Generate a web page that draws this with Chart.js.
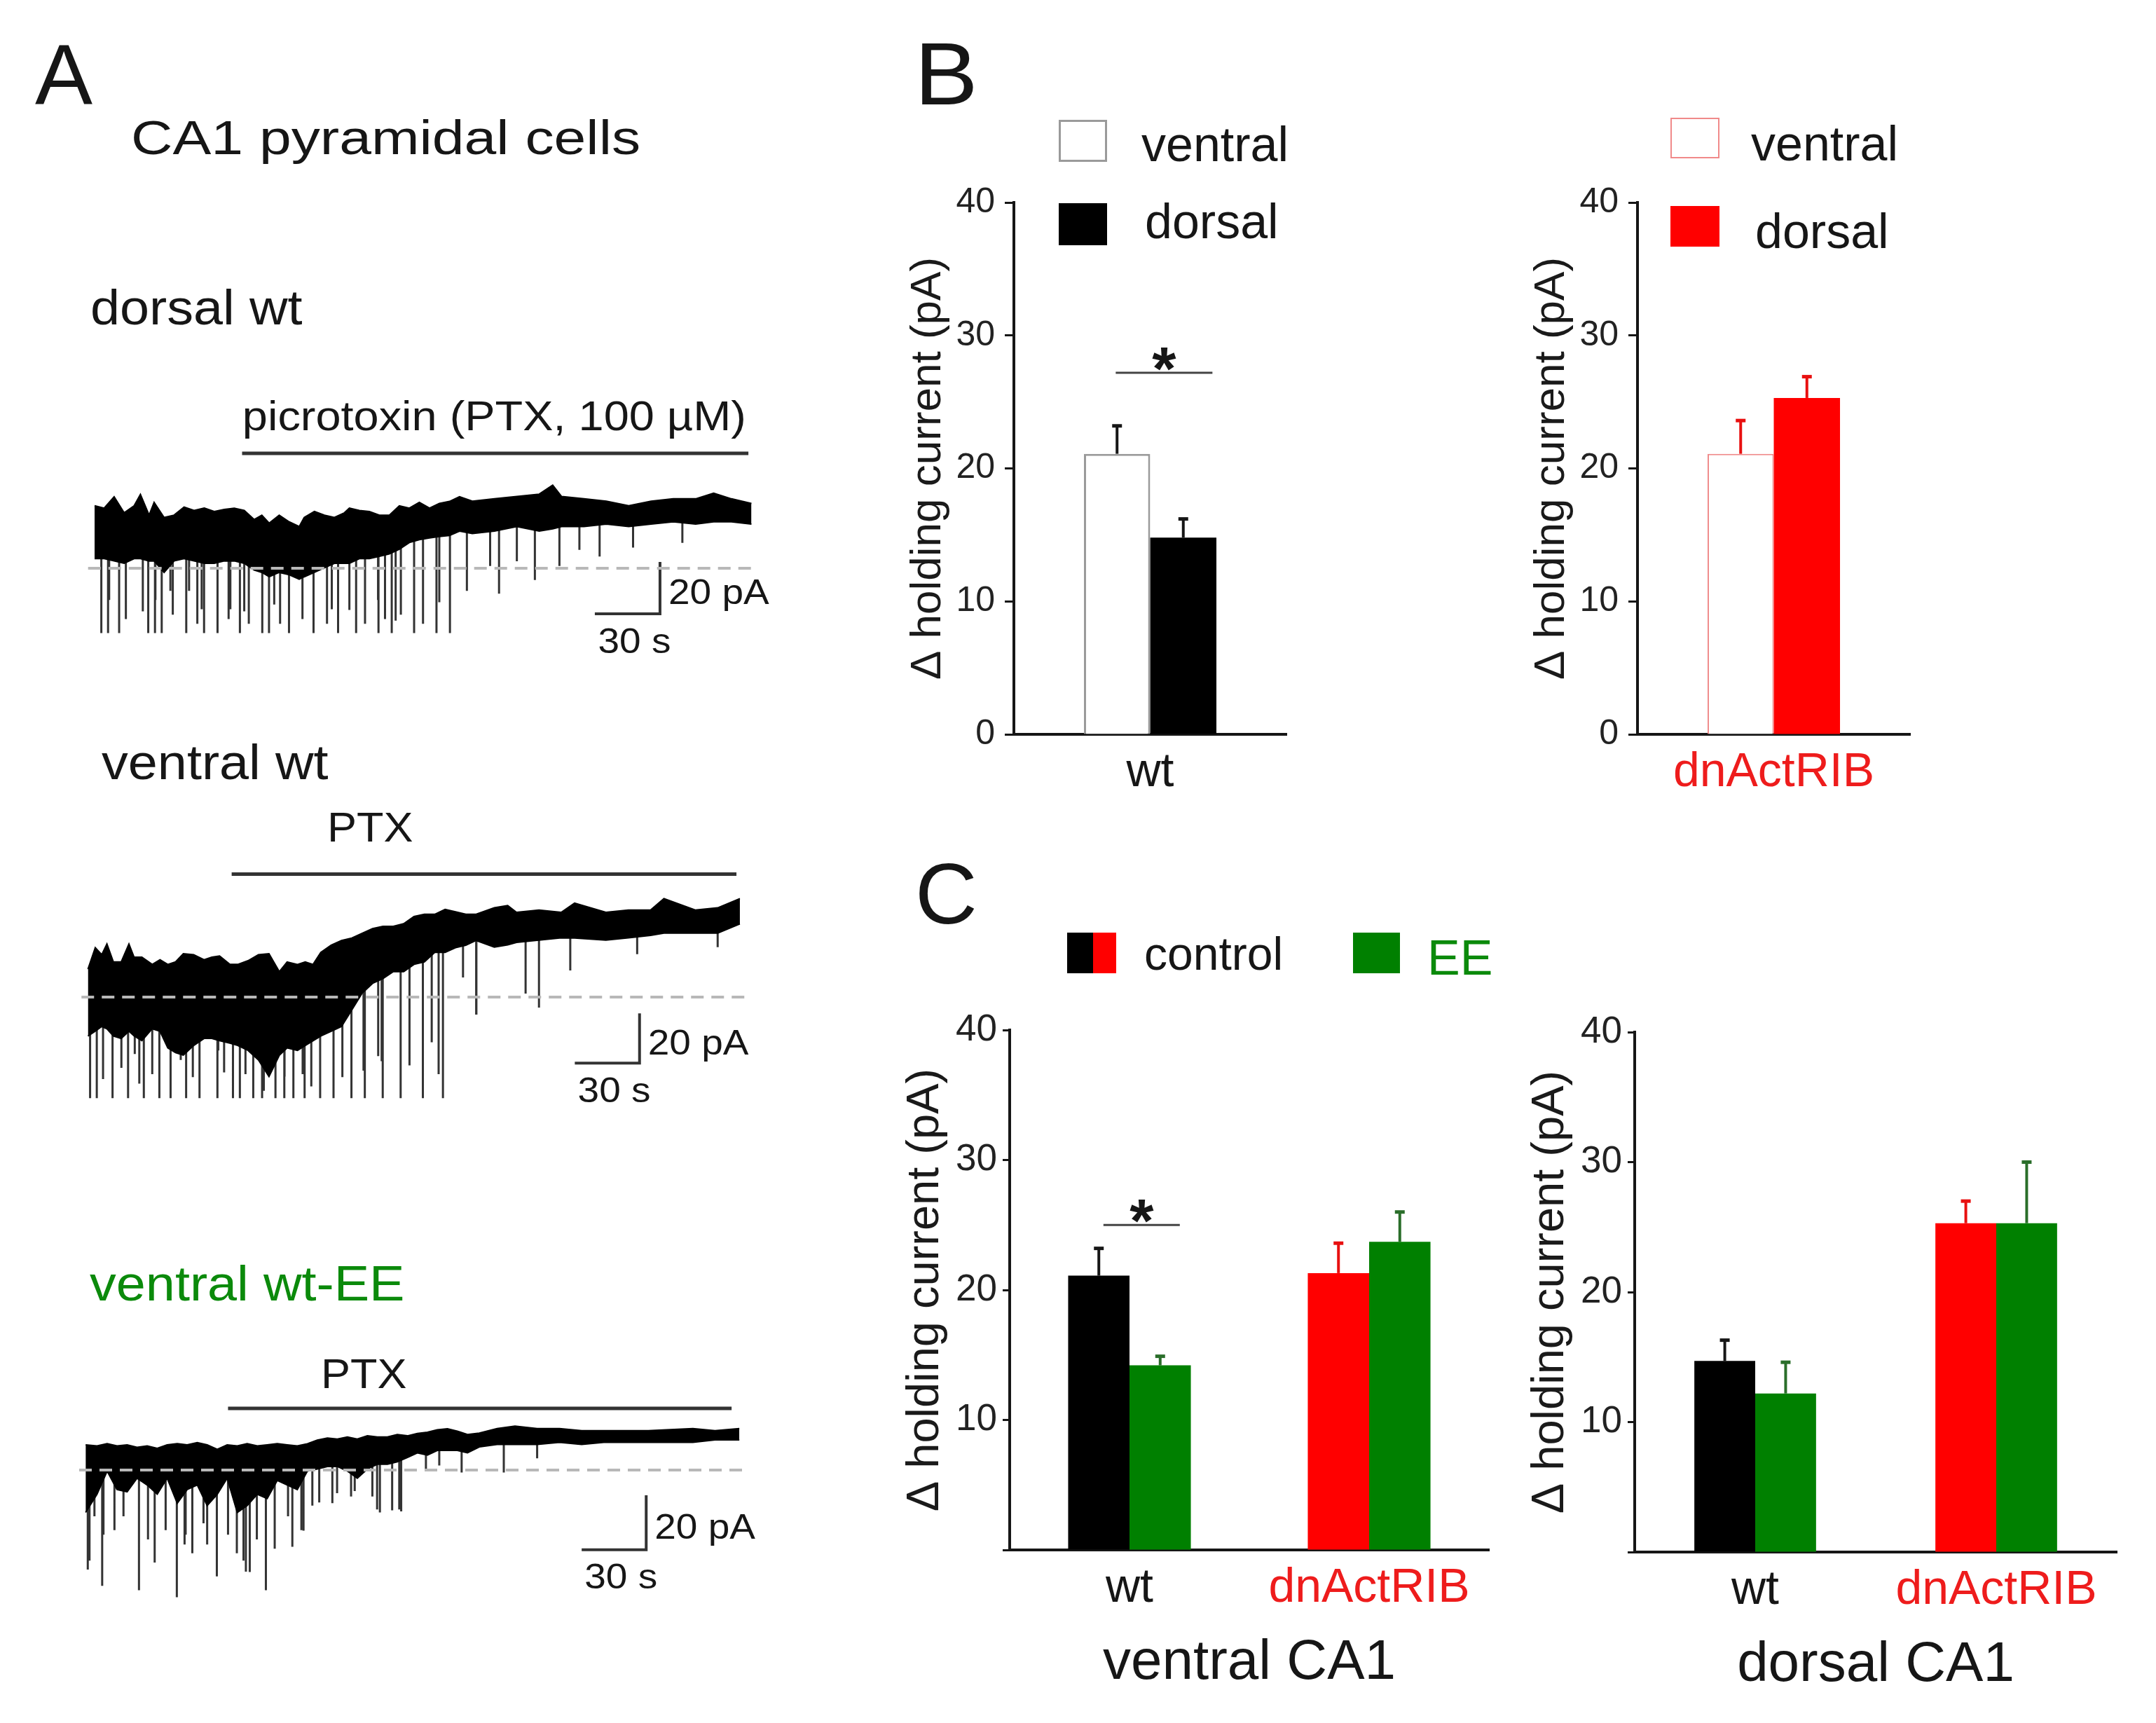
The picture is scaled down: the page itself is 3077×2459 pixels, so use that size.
<!DOCTYPE html>
<html>
<head>
<meta charset="utf-8">
<script src="https://cdn.jsdelivr.net/npm/chart.js@4.4.0/dist/chart.umd.min.js"></script>
<style>
  body { margin: 0; background: #fff; }
  #fig { position: relative; width: 3077px; height: 2459px; background: #fff; overflow: hidden;
         font-family: 'Liberation Sans', Arial, sans-serif; }
  #fig canvas { position: absolute; }
  .t { position: absolute; white-space: nowrap; transform-origin: 0 0; }
  .box { position: absolute; box-sizing: border-box; }
</style>
</head>
<body>
<div id="fig"></div>
<script>
// ---------- Panel B: delta holding current (pA) ----------
const bWtLabels = ['wt'];
const bWtVentral = [21.1], bWtVentralErr = [2.1];
const bWtDorsal = [14.8], bWtDorsalErr = [1.4];
const bWtSig = 27.2;
const bDnLabels = ['dnActRIB'];
const bDnVentral = [21.1], bDnVentralErr = [2.5];
const bDnDorsal = [25.3], bDnDorsalErr = [1.6];

// ---------- Panel C ----------
const cLabels = ['wt', 'dnActRIB'];
const cVenControl = [21.1, 21.3], cVenControlErr = [2.1, 2.3];
const cVenEE = [14.2, 23.7], cVenEEErr = [0.7, 2.3];
const cVenSig = 25.0;
const cDorControl = [14.7, 25.3], cDorControlErr = [1.6, 1.7];
const cDorEE = [12.2, 25.3], cDorEEErr = [2.4, 4.7];

const yMax = 40, yStep = 10;

// ---------- Panel A: traces (time in s, current in pA rel. to dashed baseline) ----------
const scaleBarSec = 30, scaleBarPA = 20;

// dorsal wt
const dorsalT = [0, 4.4, 9.0, 13.6, 18.2, 21.1, 25.1, 27.4, 32.0, 36.6, 41.2, 45.8, 50.5, 55.1, 59.7, 64.3, 68.9, 73.5,
  77.0, 80.4, 85.0, 89.6, 94.2, 96.5, 101.2, 105.8, 110.4, 115.0, 117.3, 121.9, 126.5, 131.1, 135.7, 140.3, 144.9,
  149.5, 154.2, 158.7, 163.4, 168.0, 173.9, 184.1, 194.4, 204.7, 210.9, 215.0, 225.3, 235.6, 245.9, 256.2, 266.4,
  276.7, 285.0, 293.2, 302.4];
const dorsalHi = [24.1, 23.2, 27.6, 21.4, 24.1, 28.5, 20.5, 25.4, 19.6, 20.5, 23.6, 22.3, 23.2, 21.9, 22.7, 23.2, 22.3,
  18.8, 20.5, 17.4, 20.5, 17.9, 16.1, 19.6, 21.9, 20.5, 19.6, 21.4, 23.2, 22.3, 21.9, 20.5, 20.5, 24.1, 23.2, 25.4,
  23.2, 25.0, 25.8, 27.6, 25.9, 26.8, 27.7, 28.6, 32.1, 27.7, 26.8, 25.9, 24.1, 25.9, 26.8, 26.8, 29.0, 26.8, 25.0];
const dorsalLo = [3.7, 3.7, 2.8, 1.9, 3.7, 3.7, 2.8, 2.8, -1.6, 2.8, 3.7, 2.8, 1.9, 1.9, 2.8, 2.8, 1.9, -0.7, -1.6, -3.3,
  -1.6, -2.5, -4.2, -3.3, -1.6, 0.2, 1.9, 1.9, 1.9, 3.7, 3.7, 4.6, 5.5, 7.3, 9.9, 11.0, 11.7, 12.2, 12.6, 14.3,
  13.4, 14.3, 16.1, 14.3, 15.2, 16.1, 16.1, 17.0, 16.1, 17.0, 17.9, 17.0, 17.9, 17.9, 17.0];
const dorsalSpikeT = [3.1, 6.2, 11.3, 14.4, 24.7, 27.8, 30.9, 36.0, 42.2, 47.3, 50.4, 56.6, 61.7, 66.9, 71.0, 77.2, 80.3,
  85.4, 89.5, 95.7, 100.8, 107.0, 112.1, 117.3, 120.4, 124.5, 130.7, 133.7, 136.8, 141.0, 147.1, 151.2, 157.4, 163.6,
  182.1, 186.2, 194.4, 202.7, 214.0, 223.2, 232.5, 247.9, 270.6,
  6.7, 22.2, 28.0, 34.9, 43.5, 49.3, 62.5, 68.9, 82.7, 109.2, 130.5, 138.6, 158.7, 171.4];
const dorsalSpikeFrom = [6, 6, 6, 6, 6, 6, 6, 6, 6, 6, 6, 6, 6, 6, 6, 6, 6, 6, 6, 6, 6, 6, 6, 6, 6, 6, 6, 6, 6,
  9, 12, 13, 15, 16, 18, 18, 18, 18, 18, 18, 18, 18, 18,
  6, 6, 6, 6, 6, 6, 6, 6, 6, 6, 6, 8, 15, 16];
const dorsalSpikeTo = [-25, -25, -25, -19.6, -25, -25, -25, -17.9, -25, -21.4, -25, -25, -19.6, -25, -21.4, -25, -25,
  -21.4, -25, -19.6, -25, -21.4, -25, -16.1, -25, -21.4, -25, -19.6, -25, -17.9, -25, -21.4, -25, -25,
  0.9, -9.8, 2.7, -4.5, 0.9, 7.1, 4.5, 8.0, 9.8,
  -12.2, -16.6, -12.2, -8.7, -8.7, -15.8, -15.8, -16.6, -14.0, -15.8, -12.2, -20.2, -13.1, -8.7];
const dorsalPtx = [67.9, 301.0], dorsalPtxLevel = 44.3;
const dorsalPtxText = [184.0, 57.6];
const dorsalScaleBar = [260.3, -17.6];

// ventral wt
const ventralT = [0, 3.4, 6.4, 8.8, 11.8, 15.4, 19.0, 21.4, 25.0, 29.8, 33.4, 37.0, 40.6, 44.2, 49.0, 53.8, 57.4, 61.0,
  65.8, 69.4, 74.2, 79.0, 83.9, 88.7, 92.3, 97.1, 100.7, 104.3, 107.9, 112.7, 117.5, 122.3, 127.1, 131.9, 136.7, 141.5,
  146.3, 151.1, 155.9, 160.7, 165.5, 170.3, 175.1, 179.9, 188.3, 194.5, 198.6, 209.0, 219.3, 225.5, 240.0, 250.4,
  260.7, 266.9, 281.4, 291.8, 302.1];
const ventralHi = [11.2, 19.8, 17.0, 21.3, 14.1, 14.1, 21.3, 16.0, 16.0, 13.1, 15.0, 13.1, 14.1, 17.4, 17.0, 15.0, 16.0,
  16.5, 13.1, 13.1, 14.6, 17.0, 17.4, 10.2, 14.1, 13.1, 14.1, 13.1, 17.9, 20.8, 22.7, 23.7, 25.6, 27.5, 28.4, 28.4,
  29.4, 32.3, 33.2, 33.2, 35.2, 34.2, 33.2, 33.2, 35.8, 36.7, 34.0, 34.9, 34.0, 37.7, 34.0, 34.9, 34.9, 39.5, 34.9,
  35.8, 39.5];
const ventralLo = [-15.6, -13.7, -11.8, -12.7, -15.6, -16.6, -13.7, -15.6, -17.5, -12.7, -13.7, -20.4, -22.3, -23.3,
  -19.4, -16.6, -16.6, -17.5, -18.5, -19.4, -21.4, -25.2, -31.9, -23.3, -20.4, -21.4, -19.4, -17.5, -15.6, -13.7,
  -11.8, -5.1, 1.6, 5.5, 7.4, 10.2, 10.2, 13.1, 14.1, 17.9, 17.9, 19.8, 20.8, 22.7, 20.0, 20.9, 21.9, 22.8, 23.7,
  23.7, 22.8, 23.7, 24.7, 25.6, 25.6, 25.6, 29.3];
const ventralSpikeT = [1.0, 4.1, 11.4, 15.5, 18.6, 21.7, 25.9, 33.1, 38.3, 45.5, 48.6, 51.7, 60.0, 63.1, 67.2, 70.4, 76.6,
  80.7, 86.9, 91.0, 95.2, 100.4, 103.5, 107.6, 113.8, 117.9, 122.1, 128.3, 134.5, 136.6, 144.9, 149.0, 155.2, 159.3,
  164.5, 173.8, 180.0, 202.8, 209.0, 223.5, 254.5, 291.8,
  7.0, 23.8, 29.8, 43.0, 60.4, 73.0, 81.5, 91.1, 99.5, 127.7, 136.1, 162.5, 179.9];
const ventralSpikeFrom = [-5, -5, -5, -5, -5, -5, -5, -5, -5, -5, -5, -5, -5, -5, -5, -5, -5, -5, -5, -5, -5, -5, -5, -5,
  -5, -5, 0, 4, 8, 9, 12, 13, 15, 18, 19, 21, 23, 23, 24, 25, 25, 27,
  -5, -5, -5, -5, -5, -5, -5, -5, -5, 4, 9, 19, 24];
const ventralSpikeTo = [-40.5, -40.5, -40.5, -28.4, -40.5, -22.8, -40.5, -40.5, -40.5, -40.5, -32.1, -40.5, -40.5, -30.2,
  -40.5, -40.5, -40.5, -40.5, -40.5, -40.5, -40.5, -40.5, -35.8, -40.5, -40.5, -32.1, -40.5, -40.5, -23.7, -40.5,
  -40.5, -27.4, -40.5, -18.1, -40.5, 7.9, -7.0, 1.4, -4.2, 10.7, 17.2, 20.0,
  -32.9, -34.7, -30.9, -25.2, -21.4, -30.9, -37.6, -31.9, -30.9, -29.5, -25.7, -30.9, -7.0];
const ventralPtx = [66.6, 300.5], ventralPtxLevel = 49.3;
const ventralPtxText = [130.8, 66.9];
const ventralScaleBar = [255.6, -26.5];

// ventral wt-EE
const eeT = [0, 5.3, 10.0, 14.6, 19.3, 23.9, 28.6, 33.3, 37.9, 42.6, 47.2, 51.9, 56.5, 61.2, 65.8, 70.5, 75.1, 79.8, 84.4,
  89.1, 93.7, 98.4, 103.1, 107.7, 112.4, 117.0, 121.7, 126.3, 131.0, 135.6, 140.3, 144.9, 149.6, 154.2, 158.9, 163.5,
  168.2, 172.8, 177.5, 183.0, 191.3, 199.6, 209.9, 220.3, 230.6, 240.9, 251.3, 261.6, 271.9, 282.3, 292.6, 303.9];
const eeHi = [9.3, 8.9, 9.7, 8.9, 9.3, 8.4, 8.9, 8.0, 9.3, 9.7, 9.3, 10.1, 9.3, 7.6, 9.3, 8.9, 9.7, 8.9, 9.3, 9.7, 9.3,
  8.9, 9.7, 11.0, 11.8, 11.4, 12.2, 11.4, 12.6, 12.2, 12.2, 13.1, 12.6, 13.5, 13.9, 14.8, 15.2, 14.3, 13.1,
  13.6, 15.3, 16.2, 15.3, 15.3, 14.5, 14.5, 14.5, 14.5, 14.9, 15.3, 14.5, 15.3];
const eeLo = [-15.6, -8.9, -0.4, -7.2, -8.0, -3.0, -5.5, -8.9, -3.0, -12.2, -7.2, -5.5, -13.1, -8.9, -3.0, -15.6, -13.1,
  -8.9, -10.5, -3.8, -5.5, -7.2, -0.4, 0.4, 1.3, 1.3, -0.4, -3.0, 0.4, 2.1, 2.1, 3.0, 4.6, 6.3, 5.5, 7.2, 7.2, 7.2, 6.3,
  8.5, 9.4, 9.4, 9.4, 10.2, 9.4, 10.2, 10.2, 10.2, 10.2, 10.2, 11.1, 11.1];
const eeSpikeT = [1.0, 4.1, 8.3, 13.4, 17.6, 24.8, 29.0, 32.1, 37.2, 42.4, 46.5, 49.6, 54.8, 61.0, 66.2, 70.3, 74.5, 79.6,
  83.8, 87.9, 94.1, 100.3, 108.6, 116.9, 125.1, 135.5, 145.8, 158.2, 164.4, 174.8, 194.4, 209.9,
  1.8, 7.7, 46.0, 56.5, 73.4, 76.3, 96.1, 101.3, 105.4, 114.7, 123.4, 133.3, 136.8, 142.5, 146.7];
const eeSpikeFrom = [0, 0, 0, 0, 0, 0, 0, 0, 0, 0, 0, 0, 0, 0, 0, 0, 0, 0, 0, 0, 0, 0, 3, 4, 3, 5, 6, 8, 9, 9, 11, 11,
  0, 0, 0, 0, 0, 0, 0, 0, 1, 2, 2, 4, 4, 5, 6];
const eeSpikeTo = [-36.6, -17.0, -23.8, -22.1, -17.0, -44.2, -25.5, -34.0, -22.1, -46.8, -23.8, -30.6, -19.6, -39.1, -23.8,
  -30.6, -37.4, -25.5, -44.2, -28.9, -17.0, -22.1, -11.9, -8.5, -7.7, -14.5, -14.5, 0, 1.7, -0.9, -0.9, 4.3,
  -33.3, -42.6, -27.4, -27.4, -33.3, -37.5, -28.2, -22.3, -13.1, -12.2, -9.7, -9.7, -15.6, -14.8, -15.2];
const eePtx = [66.2, 300.3], eePtxLevel = 22.7;
const eePtxText = [129.3, 34.5];
const eeScaleBar = [260.6, -29.3];

// ---------- colours / fonts ----------
const FONT = "'Liberation Sans', Arial, sans-serif";
const INK = '#161616', RED = '#ff0000', RED_TEXT = '#ee1c1c', GREEN = '#008000', GREEN_TEXT = '#0b8a0b';
Chart.defaults.font.family = FONT;
const fig = document.getElementById('fig');

// draw upward error bars on each bar
const errorBars = {
  id: 'errorBars',
  afterDatasetsDraw(chart) {
    const ctx = chart.ctx, y = chart.scales.y;
    chart.data.datasets.forEach((ds, di) => {
      chart.getDatasetMeta(di).data.forEach((bar, i) => {
        const top = y.getPixelForValue(ds.data[i] + ds.errors[i]);
        ctx.save();
        ctx.strokeStyle = Array.isArray(ds.errorColor) ? ds.errorColor[i] : ds.errorColor;
        ctx.lineWidth = 4;
        ctx.beginPath(); ctx.moveTo(bar.x, bar.y); ctx.lineTo(bar.x, top); ctx.stroke();
        ctx.lineWidth = 5;
        ctx.beginPath(); ctx.moveTo(bar.x - 7, top); ctx.lineTo(bar.x + 7, top); ctx.stroke();
        ctx.restore();
      });
    });
  }
};

// significance line + star between the two bars of the first group
function sigMark(value, f1, f2) {
  return {
    id: 'sigMark',
    afterDatasetsDraw(chart) {
      if (value == null) return;
      const ctx = chart.ctx;
      const b0 = chart.getDatasetMeta(0).data[0], b1 = chart.getDatasetMeta(1).data[0];
      const x1 = b0.x + f1 * b0.width, x2 = b1.x + f2 * b1.width;
      const py = chart.scales.y.getPixelForValue(value);
      ctx.save();
      ctx.strokeStyle = '#444'; ctx.lineWidth = 3;
      ctx.beginPath(); ctx.moveTo(x1, py); ctx.lineTo(x2, py); ctx.stroke();
      ctx.fillStyle = INK; ctx.font = 'bold 88px ' + FONT;
      ctx.textAlign = 'center'; ctx.textBaseline = 'alphabetic';
      ctx.fillText('*', (x1 + x2) / 2, py + 24);
      ctx.restore();
    }
  };
}

function barChart(area, o) {
  const yW = 160, padT = 60, padR = 30;
  const cv = document.createElement('canvas');
  cv.width = area.r - area.l + yW + padR;
  cv.height = area.b - area.t + padT + o.xH;
  cv.style.left = (area.l - yW) + 'px';
  cv.style.top = (area.t - padT) + 'px';
  fig.appendChild(cv);
  return new Chart(cv, {
    type: 'bar',
    data: { labels: o.labels, datasets: o.datasets },
    options: {
      responsive: false, animation: false, devicePixelRatio: 1,
      layout: { padding: { top: padT, right: padR, left: 0, bottom: 0 } },
      datasets: { bar: { categoryPercentage: o.group, barPercentage: 1 } },
      plugins: { legend: { display: false }, tooltip: { enabled: false } },
      scales: {
        x: {
          grid: { display: false, drawTicks: false },
          border: { display: true, color: INK, width: 4 },
          ticks: { font: { size: 68 }, color: c => o.tickColors[c.index], padding: 14 },
          title: o.xTitle ? { display: true, text: o.xTitle, font: { size: 80 }, color: INK, padding: 0 } : { display: false },
          afterFit: s => { s.height = o.xH; }
        },
        y: {
          min: 0, max: yMax,
          ticks: { stepSize: yStep, font: { size: o.tickSize }, color: '#222', padding: o.tickPad,
                   callback: v => (o.hideZero && v === 0) ? '' : v },
          grid: { drawOnChartArea: false, tickLength: o.tickLen, tickWidth: 3, tickColor: INK },
          border: { display: true, color: INK, width: 4 },
          title: { display: true, text: 'Δ holding current (pA)', font: { size: o.titleSize }, color: '#1a1a1a',
                   padding: { top: 1, bottom: 0 } },
          afterFit: s => { s.width = yW; }
        }
      }
    },
    plugins: [errorBars, sigMark(o.sig, o.sigF1, o.sigF2)]
  });
}

// B left: wt
barChart({ l: 1447, r: 1836, t: 289, b: 1048 }, {
  labels: bWtLabels, tickColors: [INK], xH: 110, group: 0.486, tickSize: 50, tickPad: 14, tickLen: 13, titleSize: 62,
  sig: bWtSig, sigF1: -0.02, sigF2: 0.44,
  datasets: [
    { label: 'ventral', data: bWtVentral, errors: bWtVentralErr, backgroundColor: '#fff', borderColor: '#9a9a9a',
      borderWidth: 3, errorColor: INK },
    { label: 'dorsal', data: bWtDorsal, errors: bWtDorsalErr, backgroundColor: '#000', borderWidth: 0, errorColor: INK }
  ]
});
// B right: dnActRIB
barChart({ l: 2337, r: 2726, t: 289, b: 1048 }, {
  labels: bDnLabels, tickColors: [RED_TEXT], xH: 110, group: 0.486, tickSize: 50, tickPad: 14, tickLen: 13, titleSize: 62,
  datasets: [
    { label: 'ventral', data: bDnVentral, errors: bDnVentralErr, backgroundColor: '#fff', borderColor: '#f08a8a',
      borderWidth: 2, errorColor: '#e81010' },
    { label: 'dorsal', data: bDnDorsal, errors: bDnDorsalErr, backgroundColor: RED, borderWidth: 0, errorColor: '#e81010' }
  ]
});
// C left: ventral CA1
barChart({ l: 1441, r: 2125, t: 1470, b: 2212 }, {
  labels: cLabels, tickColors: [INK, RED_TEXT], xH: 210, xTitle: 'ventral CA1', group: 0.512, hideZero: true,
  tickSize: 53, tickPad: 8, tickLen: 10, titleSize: 65, sig: cVenSig, sigF1: 0.075, sigF2: 0.32,
  datasets: [
    { label: 'control', data: cVenControl, errors: cVenControlErr, backgroundColor: ['#000', RED], borderWidth: 0,
      errorColor: [INK, '#e81010'] },
    { label: 'EE', data: cVenEE, errors: cVenEEErr, backgroundColor: GREEN, borderWidth: 0, errorColor: '#2a6e2a' }
  ]
});
// C right: dorsal CA1
barChart({ l: 2333, r: 3021, t: 1473, b: 2215 }, {
  labels: cLabels, tickColors: [INK, RED_TEXT], xH: 210, xTitle: 'dorsal CA1', group: 0.505, hideZero: true,
  tickSize: 53, tickPad: 8, tickLen: 10, titleSize: 65,
  datasets: [
    { label: 'control', data: cDorControl, errors: cDorControlErr, backgroundColor: ['#000', RED], borderWidth: 0,
      errorColor: [INK, '#e81010'] },
    { label: 'EE', data: cDorEE, errors: cDorEEErr, backgroundColor: GREEN, borderWidth: 0, errorColor: '#2a6e2a' }
  ]
});

// ---------- traces ----------
function stretchedText(ctx, s, x, y, size, align, stretch) {
  ctx.save();
  ctx.font = size + 'px ' + FONT; ctx.fillStyle = INK;
  ctx.textAlign = align; ctx.textBaseline = 'middle';
  ctx.translate(x, y); ctx.scale(stretch, 1);
  ctx.fillText(s, 0, 0);
  ctx.restore();
}

function traceChart(g, tr) {
  const cv = document.createElement('canvas');
  cv.width = g.w; cv.height = g.h;
  cv.style.left = g.left + 'px'; cv.style.top = g.top + 'px';
  fig.appendChild(cv);
  const pts = ys => tr.t.map((t, i) => ({ x: t, y: ys[i] }));
  const spikes = [];
  tr.spikeT.forEach((t, i) => spikes.push({ x: t, y: tr.spikeFrom[i] }, { x: t, y: tr.spikeTo[i] }, { x: t, y: null }));
  const last = tr.t[tr.t.length - 1];
  const [bt, bv] = tr.scaleBar;
  const labels = {
    id: 'traceText',
    afterDatasetsDraw(chart) {
      const { ctx, scales: { x, y } } = chart;
      stretchedText(ctx, tr.ptxLabel, x.getPixelForValue(tr.ptxText[0]), y.getPixelForValue(tr.ptxText[1]),
        tr.ptxSize, 'center', tr.ptxStretch);
      const cx = x.getPixelForValue(bt), x0 = x.getPixelForValue(bt - scaleBarSec);
      const cy = y.getPixelForValue(bv), top = y.getPixelForValue(bv + scaleBarPA);
      stretchedText(ctx, scaleBarPA + ' pA', cx + 12, (cy + top) / 2 + 9, 50, 'left', 1.1);
      stretchedText(ctx, scaleBarSec + ' s', (x0 + cx) / 2 + 10, cy + 42, 50, 'center', 1.1);
    }
  };
  new Chart(cv, {
    type: 'line',
    data: {
      datasets: [
        { data: spikes, borderColor: '#333', borderWidth: 3, spanGaps: false, order: 3 },
        { data: pts(tr.hi), borderColor: '#000', backgroundColor: '#000', borderWidth: 2, fill: '+1', order: 2 },
        { data: pts(tr.lo), borderColor: '#000', borderWidth: 2, fill: false, order: 2 },
        { data: [{ x: tr.t[0] - 3, y: 0 }, { x: last + 3, y: 0 }], borderColor: '#b8b8b8', borderWidth: 4,
          borderDash: [18, 11], order: 1 },
        { data: [{ x: tr.ptx[0], y: tr.ptxLevel }, { x: tr.ptx[1], y: tr.ptxLevel }], borderColor: '#333',
          borderWidth: 5, order: 1 },
        { data: [{ x: bt - scaleBarSec, y: bv }, { x: bt, y: bv }, { x: bt, y: bv + scaleBarPA }], borderColor: '#333',
          borderWidth: 4, order: 1 }
      ]
    },
    options: {
      responsive: false, animation: false, devicePixelRatio: 1,
      layout: { padding: 0 },
      elements: { point: { radius: 0 }, line: { tension: 0 } },
      plugins: { legend: { display: false }, tooltip: { enabled: false } },
      scales: {
        x: { type: 'linear', display: false, min: (g.left - g.t0) / g.secPx, max: (g.left + g.w - g.t0) / g.secPx },
        y: { type: 'linear', display: false, min: (g.zeroY - g.top - g.h) / g.paPx, max: (g.zeroY - g.top) / g.paPx }
      }
    },
    plugins: [labels]
  });
}

traceChart({ left: 90, top: 520, w: 1040, h: 440, t0: 135, secPx: 3.1, zeroY: 811, paPx: 3.7 }, {
  t: dorsalT, hi: dorsalHi, lo: dorsalLo, spikeT: dorsalSpikeT, spikeFrom: dorsalSpikeFrom, spikeTo: dorsalSpikeTo,
  ptx: dorsalPtx, ptxLevel: dorsalPtxLevel, ptxText: dorsalPtxText, ptxLabel: 'picrotoxin (PTX, 100 µM)',
  ptxSize: 59, ptxStretch: 1.1, scaleBar: dorsalScaleBar
});
traceChart({ left: 90, top: 1140, w: 1040, h: 460, t0: 125.5, secPx: 3.08, zeroY: 1423, paPx: 3.56 }, {
  t: ventralT, hi: ventralHi, lo: ventralLo, spikeT: ventralSpikeT, spikeFrom: ventralSpikeFrom, spikeTo: ventralSpikeTo,
  ptx: ventralPtx, ptxLevel: ventralPtxLevel, ptxText: ventralPtxText, ptxLabel: 'PTX',
  ptxSize: 60, ptxStretch: 1.05, scaleBar: ventralScaleBar
});
traceChart({ left: 90, top: 1900, w: 1040, h: 400, t0: 122.2, secPx: 3.07, zeroY: 2098, paPx: 3.88 }, {
  t: eeT, hi: eeHi, lo: eeLo, spikeT: eeSpikeT, spikeFrom: eeSpikeFrom, spikeTo: eeSpikeTo,
  ptx: eePtx, ptxLevel: eePtxLevel, ptxText: eePtxText, ptxLabel: 'PTX',
  ptxSize: 60, ptxStretch: 1.05, scaleBar: eeScaleBar
});

// ---------- text labels and legends ----------
function text(s, x, base, size, color, stretch) {
  const d = document.createElement('div');
  d.className = 't';
  d.textContent = s;
  d.style.left = x + 'px';
  d.style.top = (base - 0.8465 * size) + 'px';
  d.style.fontSize = size + 'px';
  d.style.lineHeight = size + 'px';
  d.style.color = color || INK;
  if (stretch) d.style.transform = 'scaleX(' + stretch + ')';
  fig.appendChild(d);
}
function box(x, y, w, h, css) {
  const d = document.createElement('div');
  d.className = 'box';
  d.style.cssText = 'left:' + x + 'px;top:' + y + 'px;width:' + w + 'px;height:' + h + 'px;' + css;
  fig.appendChild(d);
}

text('A', 50, 149, 123);
text('B', 1305, 150, 126, INK, 1.08);
text('C', 1306, 1318, 123);
text('CA1 pyramidal cells', 187, 220, 68, INK, 1.21);
text('dorsal wt', 129, 463, 70, INK, 1.08);
text('ventral wt', 145, 1112, 70, INK, 1.08);
text('ventral wt-EE', 128, 1856, 70, GREEN_TEXT, 1.08);

box(1511, 171, 69, 60, 'background:#fff;border:3px solid #9a9a9a');
text('ventral', 1629, 230, 70);
box(1511, 290, 69, 60, 'background:#000');
text('dorsal', 1634, 340, 70);

box(2384, 168, 70, 58, 'background:#fff;border:2px solid #f08a8a');
text('ventral', 2499, 229, 70);
box(2384, 294, 70, 58, 'background:' + RED);
text('dorsal', 2505, 354, 70);

box(1523, 1331, 37, 58, 'background:#000');
box(1560, 1331, 33, 58, 'background:' + RED);
text('control', 1633, 1384, 66);
box(1931, 1331, 67, 58, 'background:' + GREEN);
text('EE', 2037, 1391, 70, GREEN_TEXT);
</script>
</body>
</html>
